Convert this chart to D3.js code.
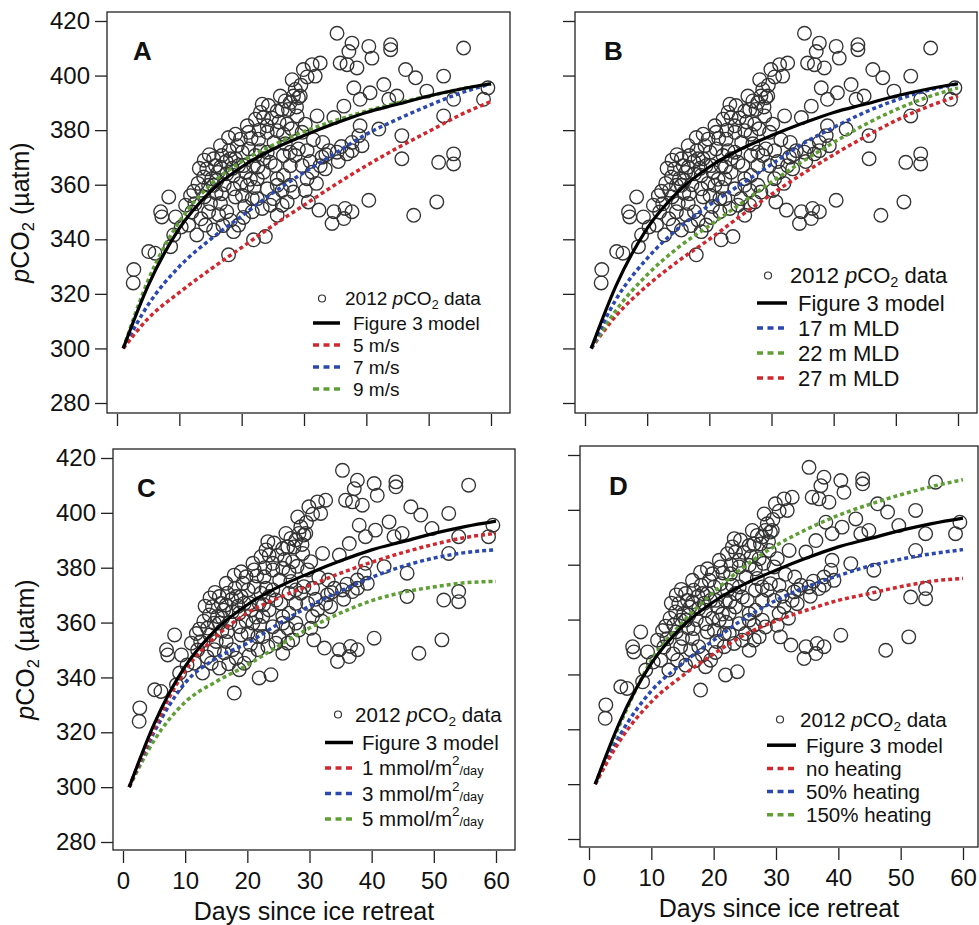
<!DOCTYPE html>
<html>
<head>
<meta charset="utf-8">
<script src="https://cdn.jsdelivr.net/npm/d3@7"></script>
<style>
  body { margin: 0; background: #fff; }
  text { font-family: Arial, "Liberation Sans", Helvetica, sans-serif; fill: #111; }
</style>
</head>
<body>
<script>
// 2012 pCO2 observations (same in every panel)
var obsDays = [2.7, 2.6, 5.1, 6.1, 8.3, 7.0, 7.2, 9.4, 11.0, 9.1, 8.6, 11.5, 12.8, 12.3, 13.6, 13.9, 14.4, 15.5, 15.8, 15.2,
  14.7, 15.0, 14.7, 14.2, 15.5, 16.6, 16.8, 17.9, 18.2, 16.6, 17.6, 18.7, 16.8, 16.6, 17.6, 18.2, 18.7, 19.5, 17.9, 20.9,
  21.1, 21.1, 20.3, 20.9, 21.7, 20.1, 21.9, 23.8, 23.3, 23.5, 24.1, 24.1, 22.7, 24.1, 23.5, 22.5, 24.1, 24.6, 25.7, 25.7,
  26.7, 27.0, 26.5, 27.5, 28.1, 28.6, 29.1, 28.9, 27.8, 28.6, 27.8, 26.7, 25.7, 25.7, 26.5, 28.3, 27.3, 25.7, 29.9, 31.3,
  32.6, 31.8, 30.5, 29.7, 31.3, 30.5, 30.2, 30.7, 32.1, 32.4, 32.6, 32.9, 34.0, 33.4, 34.8, 35.3, 35.8, 36.9, 37.2, 37.7,
  38.5, 38.0, 39.0, 36.4, 36.9, 35.3, 37.7, 38.8, 39.3, 37.7, 39.0, 34.8, 36.6, 37.7, 34.5, 36.4, 40.4, 40.9, 40.6, 42.0,
  40.4, 42.8, 43.9, 43.9, 43.6, 44.9, 46.3, 47.9, 45.7, 45.7, 47.6, 49.7, 52.4, 52.4, 51.6, 51.3, 54.0, 54.0, 54.0, 55.6,
  58.8, 59.5, 15.5, 16.0, 18.7, 19.0, 19.5, 20.1, 19.3, 19.8, 20.6, 21.9, 22.2, 22.5, 21.7, 23.3, 25.1, 26.5, 27.8, 29.1,
  26.7, 25.4, 24.6, 23.5, 23.0, 22.2, 27.3, 29.7, 30.2, 29.4, 28.3, 27.8, 13.0, 14.0, 16.2, 17.2, 18.0, 19.0, 21.5, 22.8,
  24.8, 25.2, 26.0, 27.0, 28.0, 28.8, 29.5, 30.5, 31.0, 32.0, 33.5, 35.5, 36.0, 33.0, 31.5, 22.0, 20.5, 12.0, 10.3, 13.5,
  11.8, 12.5, 13.2, 14.8, 15.9, 16.3, 17.5, 18.5, 19.8, 20.3, 21.4, 22.6, 17.0, 14.0, 19.0, 23.0, 24.3, 26.2];
var obsPco2 = [328.9, 324.0, 335.5, 334.9, 355.5, 350.1, 348.2, 348.2, 352.5, 341.6, 337.3, 345.2, 341.6, 357.6, 358.0, 362.8, 365.8, 369.5, 367.0, 362.2,
  359.8, 353.1, 350.1, 345.2, 343.4, 374.3, 370.7, 377.3, 369.5, 366.4, 364.0, 358.5, 356.7, 353.1, 350.1, 347.0, 342.8, 345.2, 334.3, 381.6,
  379.2, 373.1, 367.0, 359.8, 354.9, 356.1, 339.8, 341.0, 389.5, 384.6, 381.6, 379.2, 376.7, 371.9, 364.6, 362.2, 358.5, 352.5, 387.0, 379.8,
  378.5, 390.7, 387.6, 387.6, 398.5, 394.9, 391.9, 385.2, 371.9, 370.7, 367.0, 363.4, 362.2, 359.8, 357.9, 357.3, 353.7, 348.8, 402.2, 404.0,
  404.6, 399.8, 372.5, 367.0, 364.6, 362.2, 357.9, 353.7, 385.2, 350.7, 367.0, 370.1, 372.5, 365.8, 384.6, 415.5, 404.6, 404.0, 408.8, 411.9,
  402.8, 395.5, 391.3, 388.8, 371.3, 371.9, 375.5, 378.0, 374.3, 372.5, 381.6, 350.1, 351.3, 350.1, 345.8, 347.6, 410.7, 406.4, 393.7, 380.4,
  354.3, 396.7, 411.3, 409.5, 391.3, 392.5, 402.2, 399.2, 378.0, 369.5, 348.8, 394.3, 399.8, 385.2, 368.2, 353.7, 371.3, 367.6, 391.3, 410.1,
  391.3, 395.5, 359.8, 361.6, 363.4, 369.5, 367.0, 371.9, 374.3, 376.7, 364.6, 367.0, 370.7, 354.9, 350.1, 351.3, 354.9, 352.5, 359.8, 373.1,
  370.7, 367.0, 368.2, 369.5, 372.5, 384.0, 382.2, 379.2, 382.2, 392.5, 392.5, 390.1, 360.5, 355.5, 364.5, 360.0, 372.5, 378.5, 377.0, 380.0,
  384.5, 375.5, 383.0, 375.0, 380.5, 388.5, 396.5, 399.5, 368.5, 360.5, 371.0, 368.5, 374.0, 375.5, 376.5, 359.0, 352.0, 350.0, 344.5, 347.5,
  356.0, 353.0, 366.0, 371.0, 357.0, 349.0, 368.5, 366.0, 360.5, 348.0, 362.0, 366.5, 345.0, 369.0, 355.5, 386.5, 389.0, 392.5];

// model runs, sampled at these days
var modelDays = [1, 5, 10, 15, 20, 25, 30, 35, 40, 45, 50, 55, 60];
var fig3Model = [300, 323, 344, 357.5, 366.5, 373, 378, 382.5, 386.5, 389.5, 392.5, 395, 397];
// A: wind speed
var wind5 = [300, 311, 320.5, 329, 337, 345, 352.5, 360, 367, 373.5, 379.5, 385.5, 390.5];
var wind7 = [300, 316, 330, 340, 348.5, 357, 364.5, 371.5, 378.5, 384, 389, 393.5, 397];
var wind9 = [300, 325, 346.5, 360, 368.5, 374.5, 379.5, 383.5, 387, 390, 392.5, 395, 397];
// B: mixed layer depth
var mld17 = [300, 318, 333, 344, 352.5, 360, 367.5, 375, 381, 386.5, 391, 394.5, 397];
var mld22 = [300, 314, 327, 337, 345, 353, 361, 368.5, 375.5, 382, 387.5, 392, 395.5];
var mld27 = [300, 312, 323, 332, 340, 348.5, 356.5, 364, 371, 377.5, 383.5, 388.5, 392.5];
// C: carbon flux
var flux1 = [300, 321.5, 342.5, 355, 363.5, 369, 373.5, 378, 382, 385.5, 388.5, 391, 392.5];
var flux3 = [300, 320, 338, 347, 352.5, 359.5, 366, 371.5, 376.5, 380.5, 383.5, 385.5, 386.5];
var flux5 = [300, 317, 331, 338.5, 344.5, 351.5, 358, 363.5, 368, 371, 373, 374.5, 375];
// D: heating
var heatNone = [300, 316, 330, 339.5, 347.5, 354.5, 359.5, 363.5, 367, 369.5, 372, 374, 375];
var heat50 = [300, 318, 334, 344, 352.5, 360.5, 367, 372, 376, 379.5, 382, 384, 385.5];
var heat150 = [300, 322, 345, 359, 370, 379.5, 387, 393, 398, 402, 405.5, 408.5, 411];

var xTicks = [0, 10, 20, 30, 40, 50, 60];
var yTicks = [280, 300, 320, 340, 360, 380, 400, 420];

var RED = "#d0282f", BLUE = "#2a48b0", GREEN = "#5f9f36";

var svg = d3.select("body").append("svg")
    .attr("width", 979)
    .attr("height", 925);

// legend label pieces
var dataLabel = [{t: "2012 "}, {t: "p", i: true}, {t: "CO"}, {t: "2", sub: true}, {t: " data"}];
function fluxLabel(n) {
  return [{t: n + " mmol/m"}, {t: "2", sup: true}, {t: "/day", small: true}];
}

var panels = [
  {letter: "A", l: 107, r: 510, t: 12, b: 413, x0: 117, x1: 491, y280: 403, y420: 21,
   yLabels: true, xLabels: false, letterX: 133, letterY: 60, yTitleX: 29,
   series: [[wind9, GREEN], [wind7, BLUE], [wind5, RED]],
   legend: {cx: 322, sx: 313, sw: 27, dtx: 345, tx: 353, y0: 301, dy: 22, fs: 19,
            labels: [[{t: "5 m/s"}], [{t: "7 m/s"}], [{t: "9 m/s"}]], colors: [RED, BLUE, GREEN]}},
  {letter: "B", l: 575, r: 977, t: 12, b: 413, x0: 585, x1: 958, y280: 403, y420: 21,
   yLabels: false, xLabels: false, letterX: 604, letterY: 60,
   series: [[mld27, RED], [mld22, GREEN], [mld17, BLUE]],
   legend: {cx: 768, sx: 757, sw: 30, dtx: 790, tx: 798, y0: 278, dy: 25, fs: 22,
            labels: [[{t: "17 m MLD"}], [{t: "22 m MLD"}], [{t: "27 m MLD"}]], colors: [BLUE, GREEN, RED]}},
  {letter: "C", l: 113, r: 515, t: 449, b: 850, x0: 123, x1: 496, y280: 842, y420: 458,
   yLabels: true, xLabels: true, letterX: 137, letterY: 497, yTitleX: 34,
   series: [[flux5, GREEN], [flux3, BLUE], [flux1, RED]],
   legend: {cx: 338, sx: 325, sw: 28, dtx: 355, tx: 362, y0: 717, dy: 25.5, fs: 20.5,
            labels: [fluxLabel(1), fluxLabel(3), fluxLabel(5)], colors: [RED, BLUE, GREEN]}},
  {letter: "D", l: 580, r: 978, t: 446, b: 847, x0: 589, x1: 963, y280: 839, y420: 455,
   yLabels: false, xLabels: true, letterX: 609, letterY: 495,
   series: [[heat150, GREEN], [heat50, BLUE], [heatNone, RED]],
   legend: {cx: 780, sx: 767, sw: 29, dtx: 800, tx: 806, y0: 722, dy: 23.2, fs: 20.5,
            labels: [[{t: "no heating"}], [{t: "50% heating"}], [{t: "150% heating"}]], colors: [RED, BLUE, GREEN]}}
];

// writes a label made of tspans (italic, subscript, superscript)
function richText(sel, parts, fs) {
  var shift = 0;
  parts.forEach(function(p) {
    var ts = sel.append("tspan").text(p.t);
    var target = 0, size = fs;
    if (p.i) ts.style("font-style", "italic");
    if (p.sub) { target = fs * 0.18; size = fs * 0.66; }
    if (p.sup) { target = -fs * 0.5; size = fs * 0.66; }
    if (p.small) { target = 0; size = fs * 0.62; }
    ts.attr("font-size", size).attr("dy", target - shift);
    shift = target;
  });
}

panels.forEach(function(p) {
  var x = d3.scaleLinear().domain([0, 60]).range([p.x0, p.x1]);
  var y = d3.scaleLinear().domain([280, 420]).range([p.y280, p.y420]);
  var g = svg.append("g");

  // frame
  g.append("rect")
    .attr("x", p.l).attr("y", p.t)
    .attr("width", p.r - p.l).attr("height", p.b - p.t)
    .attr("fill", "none").attr("stroke", "#222").attr("stroke-width", 1.3);

  // y axis
  var yAxis = d3.axisLeft(y).tickValues(yTicks).tickSize(12).tickPadding(5);
  if (!p.yLabels) yAxis.tickFormat("");
  var ya = g.append("g").attr("transform", "translate(" + p.l + ",0)").call(yAxis);
  ya.select(".domain").remove();
  ya.selectAll("line").attr("stroke", "#222").attr("stroke-width", 1.3);
  ya.selectAll("text").attr("font-size", 24).attr("fill", "#111")
    .style("font-family", "Arial, 'Liberation Sans', sans-serif");

  // x axis
  var xAxis = d3.axisBottom(x).tickValues(xTicks).tickSize(12).tickPadding(9);
  if (!p.xLabels) xAxis.tickFormat("");
  var xa = g.append("g").attr("transform", "translate(0," + (p.b + 1) + ")").call(xAxis);
  xa.select(".domain").remove();
  xa.selectAll("line").attr("stroke", "#222").attr("stroke-width", 1.3);
  xa.selectAll("text").attr("font-size", 24).attr("fill", "#111")
    .style("font-family", "Arial, 'Liberation Sans', sans-serif");

  // observations
  g.append("g").selectAll("circle")
    .data(obsDays.map(function(d, i) { return [d, obsPco2[i]]; }))
    .enter()
    .append("circle")
    .attr("cx", function(d) { return x(d[0]); })
    .attr("cy", function(d) { return y(d[1]); })
    .attr("r", 6.8)
    .attr("fill", "none")
    .attr("stroke", "#333")
    .attr("stroke-width", 1.35);

  // model lines
  var line = d3.line()
    .x(function(d) { return x(d[0]); })
    .y(function(d) { return y(d[1]); })
    .curve(d3.curveMonotoneX);

  p.series.forEach(function(s) {
    g.append("path")
      .datum(modelDays.map(function(d, i) { return [d, s[0][i]]; }))
      .attr("d", line)
      .attr("fill", "none")
      .attr("stroke", s[1])
      .attr("stroke-width", 3.5)
      .attr("stroke-dasharray", "4,3");
  });
  g.append("path")
    .datum(modelDays.map(function(d, i) { return [d, fig3Model[i]]; }))
    .attr("d", line)
    .attr("fill", "none")
    .attr("stroke", "#000")
    .attr("stroke-width", 3.2);

  // panel letter
  g.append("text")
    .attr("x", p.letterX).attr("y", p.letterY)
    .attr("font-size", 26).attr("font-weight", "bold")
    .text(p.letter);

  // legend (data row sits slightly higher than the regular step)
  var lg = p.legend;
  var base = lg.fs * 0.36;
  var dataY = lg.y0 - 2.5;
  g.append("circle")
    .attr("cx", lg.cx).attr("cy", dataY)
    .attr("r", 3.5).attr("fill", "none").attr("stroke", "#333").attr("stroke-width", 1.2);
  richText(g.append("text").attr("x", lg.dtx).attr("y", dataY + base), dataLabel, lg.fs);

  g.append("line")
    .attr("x1", lg.sx).attr("x2", lg.sx + lg.sw)
    .attr("y1", lg.y0 + lg.dy).attr("y2", lg.y0 + lg.dy)
    .attr("stroke", "#000").attr("stroke-width", 3.5);
  g.append("text").attr("x", lg.tx).attr("y", lg.y0 + lg.dy + base)
    .attr("font-size", lg.fs).text("Figure 3 model");

  lg.labels.forEach(function(lab, i) {
    var ly = lg.y0 + lg.dy * (i + 2);
    g.append("line")
      .attr("x1", lg.sx).attr("x2", lg.sx + lg.sw)
      .attr("y1", ly).attr("y2", ly)
      .attr("stroke", lg.colors[i]).attr("stroke-width", 3.5)
      .attr("stroke-dasharray", "6,4.5");
    richText(g.append("text").attr("x", lg.tx).attr("y", ly + base), lab, lg.fs);
  });

  // y axis title
  if (p.yLabels) {
    var yt = g.append("text")
      .attr("text-anchor", "middle")
      .attr("transform", "translate(" + p.yTitleX + "," + ((p.t + p.b) / 2) + ")rotate(-90)");
    richText(yt, [{t: "p", i: true}, {t: "CO"}, {t: "2", sub: true}, {t: " (µatm)"}], 25);
  }

  // x axis title
  if (p.xLabels) {
    g.append("text")
      .attr("x", (p.l + p.r) / 2).attr("y", p.b + 70)
      .attr("text-anchor", "middle")
      .attr("font-size", 25)
      .text("Days since ice retreat");
  }
});
</script>
</body>
</html>
